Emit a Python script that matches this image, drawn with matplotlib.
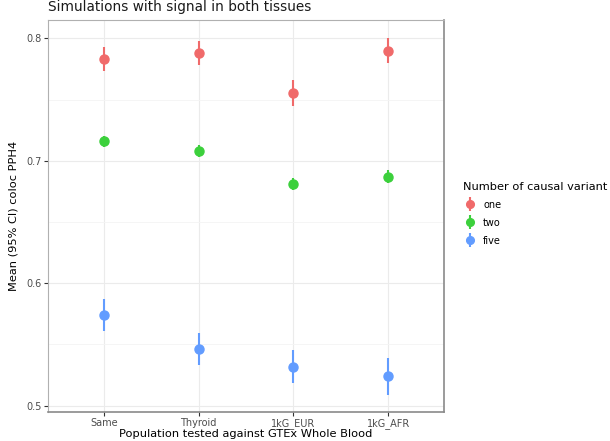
import numpy as np
import matplotlib.pyplot as plt
from matplotlib.container import ErrorbarContainer
from matplotlib.legend_handler import HandlerErrorbar

# mean coloc PPH4 with 95% CI half-widths, per population and number of causal variants
populations = ["Same", "Thyroid", "1kG_EUR", "1kG_AFR"]
groups = ["one", "two", "five"]
colors = ["#F06A6A", "#3CD03C", "#629CFF"]

mean_one = [0.783, 0.788, 0.755, 0.790]
ci_one = [0.0098, 0.0095, 0.0106, 0.0105]
mean_two = [0.716, 0.708, 0.681, 0.687]
ci_two = [0.0044, 0.0047, 0.0050, 0.0055]
mean_five = [0.574, 0.546, 0.532, 0.524]
ci_five = [0.013, 0.013, 0.0136, 0.015]

means = [mean_one, mean_two, mean_five]
cis = [ci_one, ci_two, ci_five]


def main():
    fig = plt.figure(figsize=(6.1, 4.41), dpi=100)
    ax = fig.add_axes([0.0787, 0.0658, 0.6492, 0.8888])

    x = np.arange(1, len(populations) + 1)
    for name, col, m, c in zip(groups, colors, means, cis):
        ax.errorbar(x, m, yerr=c, fmt="o", color=col, ecolor=col,
                    markersize=6.5, elinewidth=1.5, capsize=0, label=name, zorder=3)

    ax.set_xlim(0.41, 4.59)
    ax.set_ylim(0.4949, 0.8149)
    ax.set_xticks(x)
    ax.set_xticklabels(populations)
    ax.set_yticks([0.5, 0.6, 0.7, 0.8])
    ax.set_yticks([0.55, 0.65, 0.75], minor=True)
    ax.tick_params(axis="both", which="major", labelsize=7, labelcolor="#4D4D4D",
                   color="#333333", length=3, width=0.8, pad=1.5)
    ax.tick_params(axis="y", which="minor", length=0)

    ax.grid(True, which="major", color="#EBEBEB", linewidth=0.8, zorder=0)
    ax.grid(True, which="minor", axis="y", color="#F4F4F4", linewidth=0.6, zorder=0)
    ax.set_axisbelow(True)

    for side in ["top", "left"]:
        ax.spines[side].set_color("#B0B0B0")
        ax.spines[side].set_linewidth(0.8)
    for side in ["right", "bottom"]:
        ax.spines[side].set_color("#8A8A8A")
        ax.spines[side].set_linewidth(1.2)

    ax.set_xlabel("Population tested against GTEx Whole Blood", fontsize=8.2, labelpad=0)
    ax.set_ylabel("Mean (95% CI) coloc PPH4", fontsize=8.2, labelpad=6)
    fig.text(0.0787, 0.985, "Simulations with signal in both tissues", fontsize=9.8,
             ha="left", va="center", color="#1A1A1A")

    ax.legend(title="Number of causal variant", loc="upper left",
              bbox_to_anchor=(1.025, 0.61), frameon=False, fontsize=7,
              title_fontsize=8.2, handletextpad=0.5, labelspacing=0.82,
              handlelength=1.6, alignment="left", markerscale=0.85,
              handler_map={ErrorbarContainer: HandlerErrorbar(yerr_size=0.7)})

    fig.savefig("out.png", dpi=100)


if __name__ == '__main__':
    main()
